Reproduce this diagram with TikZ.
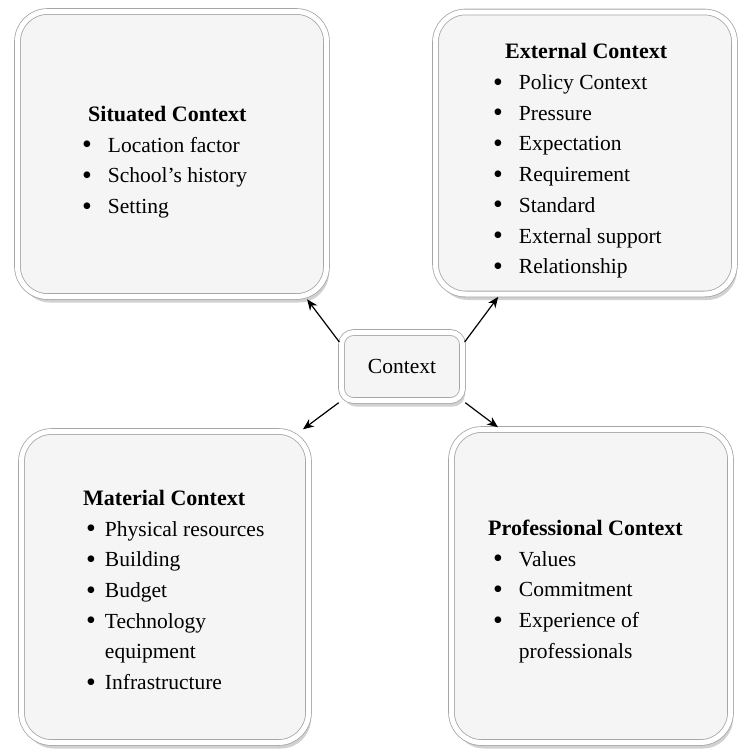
\documentclass[tikz,border=0pt]{standalone}
\usepackage{fontspec}
\setmainfont{Liberation Serif}
\usetikzlibrary{arrows.meta,shadows}

\newcommand{\itemdot}{\raisebox{-1.6pt}{\scalebox{1.3}{\textbullet}}}

\begin{document}
\begin{tikzpicture}[
    x=1pt, y=-1pt,
    ctxbox/.style={rectangle, draw=black!35, line width=0.8pt, double=white, double distance=5pt, fill=black!4, rounded corners=30pt, drop shadow={opacity=0.3, fill=black!60, shadow xshift=2.5pt, shadow yshift=-6pt}},
    hubbox/.style={ctxbox, rounded corners=12pt, minimum width=121pt, minimum height=68pt, font=\fontsize{21.5}{30.7}\selectfont},
    heading/.style={font=\fontsize{22}{31}\selectfont\bfseries, inner sep=0pt, anchor=base west},
    items/.style={font=\fontsize{21.5}{30.7}\selectfont, inner sep=0pt, anchor=base west},
    arrow/.style={-{Stealth[length=11pt,width=9pt]}, line width=1.2pt, shorten <=3pt, shorten >=3pt}
]
\useasboundingbox (0,0) rectangle (742,756);

% Boxes
\node[ctxbox, minimum width=309pt, minimum height=285pt] (sit) at (172,154) {};
\node[ctxbox, minimum width=299pt, minimum height=282pt] (ext) at (585,153) {};
\node[ctxbox, minimum width=287pt, minimum height=311pt] (mat) at (165,587) {};
\node[ctxbox, minimum width=279pt, minimum height=313pt] (pro) at (591,586) {};

% Centre
\node[hubbox] (ctx) at (402,366.5) {Context};

% Situated context
\node[heading] (sittitle) at (88,121) {Situated Context};
\node[items] (sitlist) at (82,152) {\begin{tabular}[t]{@{}l@{\hspace{16pt}}l@{}}
    \itemdot & Location factor\\
    \itemdot & School’s history\\
    \itemdot & Setting
\end{tabular}};

% External context
\node[heading] (exttitle) at (505,58) {External Context};
\node[items] (extlist) at (493,89.5) {\begin{tabular}[t]{@{}l@{\hspace{16pt}}l@{}}
    \itemdot & Policy Context\\
    \itemdot & Pressure\\
    \itemdot & Expectation\\
    \itemdot & Requirement\\
    \itemdot & Standard\\
    \itemdot & External support\\
    \itemdot & Relationship
\end{tabular}};

% Material context
\node[heading] (mattitle) at (83,505) {Material Context};
\node[items] (matlist) at (86,536) {\begin{tabular}[t]{@{}l@{\hspace{9pt}}l@{}}
    \itemdot & Physical resources\\
    \itemdot & Building\\
    \itemdot & Budget\\
    \itemdot & Technology\\
             & equipment\\
    \itemdot & Infrastructure
\end{tabular}};

% Professional context
\node[heading] (protitle) at (488,535) {Professional Context};
\node[items] (prolist) at (493,566) {\begin{tabular}[t]{@{}l@{\hspace{16pt}}l@{}}
    \itemdot & Values\\
    \itemdot & Commitment\\
    \itemdot & Experience of\\
             & professionals
\end{tabular}};

% Arrows
\draw[arrow] (ctx.160) -- (sit.-47);
\draw[arrow] (ctx.20) -- (ext.239);
\draw[arrow] (ctx.south west) -- (mat.49);
\draw[arrow] (ctx.south east) -- (pro.120);

\end{tikzpicture}
\end{document}
